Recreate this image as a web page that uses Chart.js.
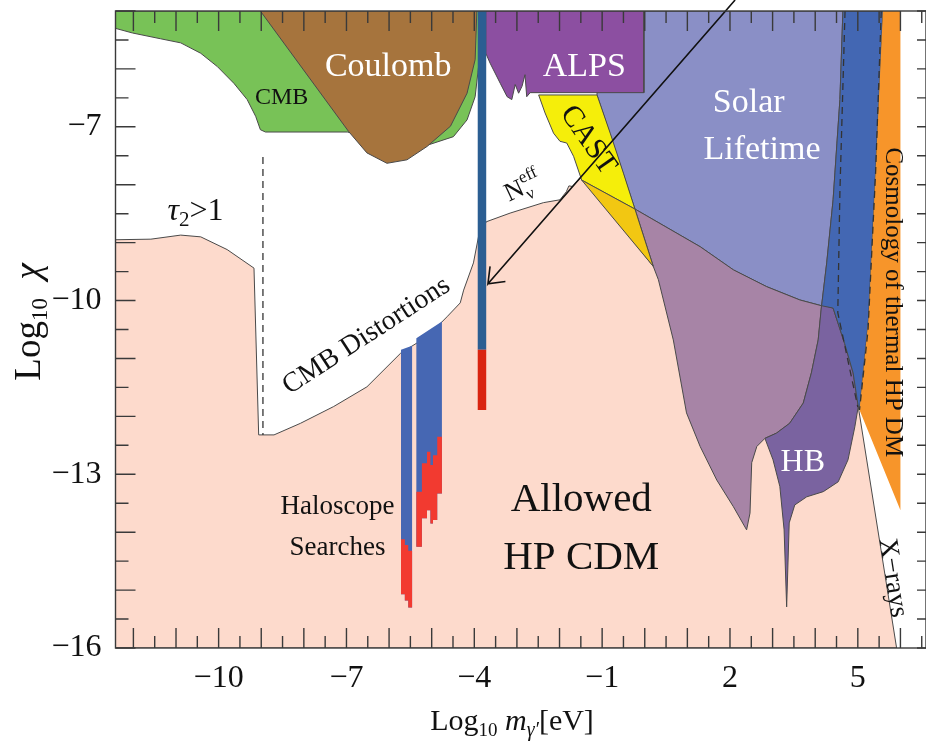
<!DOCTYPE html>
<html>
<head>
<meta charset="utf-8">
<title>Hidden photon CDM parameter space</title>
<script src="https://cdn.jsdelivr.net/npm/chart.js@4"></script>
<style>
  html, body { margin: 0; padding: 0; background: #fff; }
  canvas { display: block; }
</style>
</head>
<body>
<canvas id="hpChart" width="926" height="752"></canvas>
<script>
/* ---------------- AXES ---------------- */
const X_MIN = -12.42, X_MAX = 6.6;
const Y_MIN = -16, Y_MAX = -5;
const xTickLabels = [-10, -7, -4, -1, 2, 5];
const yTickLabels = [-7, -10, -13, -16];

/* ---------------- REGIONS: [log10 m, log10 chi] ---------------- */
const allowedHP = [
  [-12.42, -8.95], [-11.59, -8.94], [-10.89, -8.87], [-10.42, -8.90], [-9.80, -9.12], [-9.17, -9.44],
  [-9.06, -12.32], [-8.70, -12.32], [-8.08, -12.12], [-7.30, -11.83], [-6.52, -11.49], [-5.73, -10.91],
  [-5.34, -10.73], [-4.95, -10.51], [-4.64, -10.28], [-4.33, -10.04], [-4.25, -9.82], [-4.02, -9.35],
  [-3.90, -8.89], [-3.72, -8.64], [-3.16, -8.49], [-2.38, -8.31], [-1.99, -8.26], [-1.84, -8.12],
  [-1.78, -8.02], [-1.70, -8.03], [-1.48, -7.86], [0.20, -9.41], [5.01, -11.83], [5.91, -16], [-12.42, -16]
];
const cmbRegion = [
  [-12.42, -5], [-3.86, -5], [-3.90, -5.96], [-3.98, -6.48], [-4.17, -6.88], [-4.49, -7.17], [-5.07, -7.31],
  [-5.73, -7.31], [-6.98, -7.09], [-8.90, -7.09], [-9.02, -7.05], [-9.13, -6.82], [-9.33, -6.53],
  [-9.64, -6.25], [-10.03, -5.96], [-10.42, -5.73], [-10.89, -5.55], [-11.36, -5.48], [-12.02, -5.38], [-12.42, -5.30]
];
const coulombRegion = [
  [-9.02, -5], [-3.94, -5], [-3.98, -5.84], [-4.17, -6.42], [-4.56, -6.99], [-5.11, -7.34],
  [-5.58, -7.57], [-6.05, -7.63], [-6.52, -7.45], [-6.95, -7.08]
];
const alpsRegion = [
  [-3.73, -5], [-0.02, -5], [-0.02, -6.41], [-2.69, -6.41], [-2.77, -6.48], [-2.81, -6.10], [-2.88, -6.30],
  [-2.96, -6.42], [-3.04, -6.27], [-3.12, -6.53], [-3.23, -6.48], [-3.39, -6.25], [-3.63, -5.90], [-3.73, -5.73]
];
const solarRegion = [
  [-1.12, -5], [4.65, -5], [4.58, -6.53], [4.42, -8.26], [4.27, -9.35], [4.15, -10.09], [3.64, -9.99],
  [2.86, -9.76], [2.08, -9.47], [1.30, -9.07], [-0.23, -8.42], [-1.12, -6.45]
];
const castRegion = [
  [-2.49, -6.45], [-1.12, -6.45], [-0.81, -7.11], [-0.50, -7.80], [-0.23, -8.42], [-1.48, -7.92],
  [-1.67, -7.51], [-1.83, -7.28], [-1.99, -7.25], [-2.14, -7.11], [-2.34, -6.76]
];
const castOverlap = [[-1.48, -7.92], [-0.23, -8.42], [0.20, -9.41]];
const stellarRegion = [
  [-0.23, -8.42], [1.30, -9.07], [2.08, -9.47], [2.86, -9.76], [3.64, -9.99], [4.15, -10.09], [4.07, -10.68],
  [3.91, -11.25], [3.72, -11.77], [3.40, -12.12], [3.09, -12.29], [2.82, -12.38], [2.63, -12.52], [2.51, -12.80],
  [2.47, -13.67], [2.39, -13.96], [2.08, -13.56], [1.69, -13.10], [1.30, -12.52], [0.98, -11.94], [0.67, -10.68],
  [0.32, -9.64], [0.20, -9.41]
];
const hbRegion = [
  [4.15, -10.07], [4.42, -10.13], [4.69, -10.74], [4.89, -11.25], [5.01, -11.83], [4.93, -12.18], [4.77, -12.75],
  [4.54, -13.13], [4.19, -13.30], [3.80, -13.39], [3.52, -13.53], [3.39, -13.84], [3.33, -15.29], [3.27, -13.96],
  [3.17, -13.21], [3.01, -12.75], [2.82, -12.38], [3.09, -12.29], [3.40, -12.12], [3.72, -11.77], [3.91, -11.25], [4.07, -10.68]
];
const darkBand = [
  [4.65, -5], [5.59, -5], [5.42, -7.74], [5.25, -10.33], [5.04, -11.89], [5.01, -11.83], [4.89, -11.25],
  [4.69, -10.74], [4.42, -10.13], [4.15, -10.09], [4.27, -9.35], [4.42, -8.26], [4.58, -6.53]
];
const thermalRegion = [[5.59, -5], [6.0, -5], [6.0, -13.62], [5.04, -11.89], [5.25, -10.33], [5.42, -7.74]];

/* haloscope columns: edges, blue top at both ends, red top / bottom per column */
const haloAEdges = [-5.72, -5.63, -5.55, -5.46];
const haloATop = [-10.85, -10.78];
const haloARedTop = [-14.12, -14.22, -14.32];
const haloARedBottom = [-15.07, -15.18, -15.30];
const haloBEdges = [-5.36, -5.23, -5.11, -5.03, -4.97, -4.87, -4.76];
const haloBTop = [-10.65, -10.36];
const haloBRedTop = [-13.30, -12.81, -12.61, -12.84, -12.67, -12.35];
const haloBRedBottom = [-14.25, -13.76, -13.62, -13.85, -13.79, -13.33];

/* single vertical search line */
const lineSearchX = -3.82;
const lineSearchBlue = [-5, -10.85];
const lineSearchRed = [-10.85, -11.89];

/* dashed limits and the N_eff arrow */
const tauLimit = [[-8.96, -7.52], [-8.96, -12.32]];
const bandEdgeA = [[4.70, -5], [4.58, -8.11], [4.53, -10.21], [5.00, -11.84]];
const bandEdgeB = [[5.55, -5], [5.42, -7.74], [5.24, -10.51], [5.04, -11.89]];
const neffArrow = [[2.12, -4.81], [-3.68, -9.71], [-3.63, -9.41], [-3.68, -9.71], [-3.27, -9.67]];

/* ---------------- DATASET HELPERS ---------------- */
const toXY = pts => pts.map(([x, y]) => ({ x, y }));

function region(pts, color, order, edge = '#4a4a4a') {
  return {
    data: toXY(pts.concat([pts[0]])),
    backgroundColor: color,
    borderColor: edge,
    borderWidth: edge ? 1 : 0,
    fill: 'shape',
    order
  };
}

function stroke(pts, color, width, order, dash = [], clip = undefined) {
  const ds = { data: toXY(pts), borderColor: color, borderWidth: width, borderDash: dash, fill: false, order, borderCapStyle: 'butt' };
  if (clip !== undefined) ds.clip = clip;
  return ds;
}

// outline of a stack of haloscope columns
function haloOutline(edges, top, bottoms) {
  const n = bottoms.length;
  const pts = [[edges[0], top[0]], [edges[n], top[1]]];
  for (let i = n - 1; i >= 0; i--) pts.push([edges[i + 1], bottoms[i]], [edges[i], bottoms[i]]);
  return pts;
}
function haloSteps(edges, tops, bottoms) {
  const pts = [];
  tops.forEach((t, i) => pts.push([edges[i], t], [edges[i + 1], t]));
  for (let i = bottoms.length - 1; i >= 0; i--) pts.push([edges[i + 1], bottoms[i]], [edges[i], bottoms[i]]);
  return pts;
}

const HALO_BLUE = '#4667b3', HALO_RED = '#f23a30';

const datasets = [
  region(allowedHP, '#fddacc', 30),
  region(cmbRegion, '#78c257', 29),
  region(coulombRegion, '#a6743d', 28),
  region(solarRegion, '#8a8fc6', 27),
  region(stellarRegion, '#a784a6', 26),
  region(hbRegion, '#7a63a0', 25),
  region(darkBand, '#4367b3', 24),
  region(thermalRegion, '#f7952a', 23, null),
  region(castRegion, '#f5ee0a', 22),
  region(castOverlap, '#f2c712', 21),
  region(alpsRegion, '#8c4fa1', 20),
  region(haloOutline(haloAEdges, haloATop, haloARedBottom), HALO_BLUE, 19, null),
  region(haloSteps(haloAEdges, haloARedTop, haloARedBottom), HALO_RED, 18, null),
  region(haloOutline(haloBEdges, haloBTop, haloBRedBottom), HALO_BLUE, 17, null),
  region(haloSteps(haloBEdges, haloBRedTop, haloBRedBottom), HALO_RED, 16, null),
  stroke(lineSearchBlue.map(y => [lineSearchX, y]), '#2b5e92', 8.5, 15),
  stroke(lineSearchRed.map(y => [lineSearchX, y]), '#d9230f', 8.5, 14),
  stroke(tauLimit, '#333', 1.3, 13, [7, 5]),
  stroke(bandEdgeA, '#333', 1.3, 12, [7, 5]),
  stroke(bandEdgeB, '#333', 1.3, 11, [7, 5]),
  stroke(neffArrow, '#111', 1.6, 10, [], false)
];

/* ---------------- TEXT ---------------- */
const SERIF = "'Liberation Serif', 'DejaVu Serif', serif";
const regionLabels = [
  { at: [-6.02, -5.97], size: 34, color: '#fff', parts: [{ t: 'Coulomb' }] },
  { at: [-8.52, -6.49], size: 24, color: '#111', parts: [{ t: 'CMB' }] },
  { at: [-1.42, -5.97], size: 34, color: '#fff', parts: [{ t: 'ALPS' }] },
  { at: [2.44, -6.59], size: 34, color: '#fff', parts: [{ t: 'Solar' }] },
  { at: [2.75, -7.40], size: 34, color: '#fff', parts: [{ t: 'Lifetime' }] },
  { at: [-1.33, -7.23], size: 30, color: '#111', rot: 55, parts: [{ t: 'CAST' }] },
  { at: [-2.97, -8.09], size: 26, color: '#111', rot: -25,
    parts: [{ t: 'N' }, { t: 'eff', s: 17, dy: -9, hold: true }, { t: 'ν', s: 17, dy: 9 }] },
  { at: [-10.54, -8.47], size: 32, color: '#111', parts: [{ t: 'τ', i: true }, { t: '2', s: 21, dy: 9 }, { t: '>1' }] },
  { at: [-6.53, -10.61], size: 28, color: '#111', rot: -33, parts: [{ t: 'CMB Distortions' }] },
  { at: [-7.21, -13.57], size: 27, color: '#111', parts: [{ t: 'Haloscope' }] },
  { at: [-7.21, -14.27], size: 27, color: '#111', parts: [{ t: 'Searches' }] },
  { at: [-1.49, -13.45], size: 41, color: '#111', parts: [{ t: 'Allowed' }] },
  { at: [-1.49, -14.45], size: 41, color: '#111', parts: [{ t: 'HP CDM' }] },
  { at: [3.71, -12.79], size: 32, color: '#fff', parts: [{ t: 'HB' }] },
  { at: [5.82, -10.03], size: 25, color: '#111', rot: 90, parts: [{ t: 'Cosmology of thermal HP DM' }] },
  { at: [5.82, -14.79], size: 27, color: '#111', rot: 81, parts: [{ t: 'X\u2212rays' }] }
];

function drawRich(ctx, parts, size, cx, cy, rot) {
  const fontOf = p => `${p.i ? 'italic ' : ''}${p.s || size}px ${SERIF}`;
  let w = 0;
  parts.forEach(p => { ctx.font = fontOf(p); if (!p.hold) w += ctx.measureText(p.t).width; });
  ctx.save();
  ctx.translate(cx, cy);
  ctx.rotate((rot || 0) * Math.PI / 180);
  ctx.textBaseline = 'middle';
  ctx.textAlign = 'left';
  let x = -w / 2;
  parts.forEach(p => {
    ctx.font = fontOf(p);
    ctx.fillText(p.t, x, p.dy || 0);
    if (!p.hold) x += ctx.measureText(p.t).width;
  });
  ctx.restore();
}

const regionText = {
  id: 'regionText',
  afterDatasetsDraw(chart) {
    const { ctx, scales: { x, y } } = chart;
    regionLabels.forEach(l => {
      ctx.fillStyle = l.color;
      drawRich(ctx, l.parts, l.size, x.getPixelForValue(l.at[0]), y.getPixelForValue(l.at[1]), l.rot);
    });
  },
  afterDraw(chart) {
    const { ctx, chartArea: a } = chart;
    ctx.fillStyle = '#111';
    drawRich(ctx, [{ t: 'Log' }, { t: '10', s: 23, dy: 11 }, { t: '  ' }, { t: 'χ', i: true }], 37, 30, 322, -90);
    drawRich(ctx, [{ t: 'Log' }, { t: '10', s: 19, dy: 9 }, { t: ' ' }, { t: 'm', i: true },
      { t: 'γ′', s: 20, dy: 9, i: true }, { t: '[eV]' }], 30, 512, 722, 0);
  }
};

/* frame with inward ticks on all four sides */
const frameTicks = {
  id: 'frameTicks',
  afterDatasetsDraw(chart) {
    const { ctx, chartArea: a, scales: { x, y } } = chart;
    ctx.save();
    ctx.strokeStyle = '#3a3a3a';
    ctx.lineWidth = 1.4;
    ctx.strokeRect(a.left, a.top, a.right - a.left, a.bottom - a.top);
    ctx.beginPath();
    for (let v = Math.ceil(X_MIN * 2) / 2; v <= X_MAX; v += 0.5) {
      const px = x.getPixelForValue(v);
      const len = Number.isInteger(v) ? 20 : 12;
      ctx.moveTo(px, a.bottom); ctx.lineTo(px, a.bottom - len);
      ctx.moveTo(px, a.top); ctx.lineTo(px, a.top + len);
    }
    for (let v = Y_MIN; v <= Y_MAX; v += 0.5) {
      const py = y.getPixelForValue(v);
      const len = Number.isInteger(v) ? 20 : 13;
      ctx.moveTo(a.left, py); ctx.lineTo(a.left + len, py);
      ctx.moveTo(a.right, py); ctx.lineTo(a.right - 9, py);
    }
    ctx.stroke();
    ctx.restore();
  }
};

const tickLabel = list => v => list.some(t => Math.abs(t - v) < 1e-6)
  ? String(Math.round(v)).replace('-', '\u2212') : '';

const tickFont = { family: SERIF, size: 32 };

new Chart(document.getElementById('hpChart'), {
  type: 'line',
  data: { datasets },
  options: {
    responsive: false,
    animation: false,
    devicePixelRatio: 1,
    events: [],
    layout: { padding: { top: 11, right: 0, bottom: 0, left: 0 } },
    elements: { point: { radius: 0 }, line: { tension: 0 } },
    plugins: { legend: { display: false }, tooltip: { enabled: false } },
    scales: {
      x: {
        type: 'linear', min: X_MIN, max: X_MAX,
        grid: { display: false, drawTicks: false },
        border: { display: false },
        ticks: {
          stepSize: 0.5, autoSkip: false, maxRotation: 0, includeBounds: false,
          padding: 11, color: '#111', font: tickFont, callback: tickLabel(xTickLabels)
        },
        afterFit: s => { s.height = 104; s.paddingLeft = 0; s.paddingRight = 0; }
      },
      y: {
        type: 'linear', min: Y_MIN, max: Y_MAX,
        grid: { display: false, drawTicks: false },
        border: { display: false },
        ticks: {
          stepSize: 0.5, autoSkip: false, includeBounds: false,
          padding: 14, color: '#111', font: tickFont, callback: tickLabel(yTickLabels)
        },
        afterFit: s => { s.width = 115.5; s.paddingTop = 0; s.paddingBottom = 0; }
      }
    }
  },
  plugins: [regionText, frameTicks]
});
</script>
</body>
</html>
